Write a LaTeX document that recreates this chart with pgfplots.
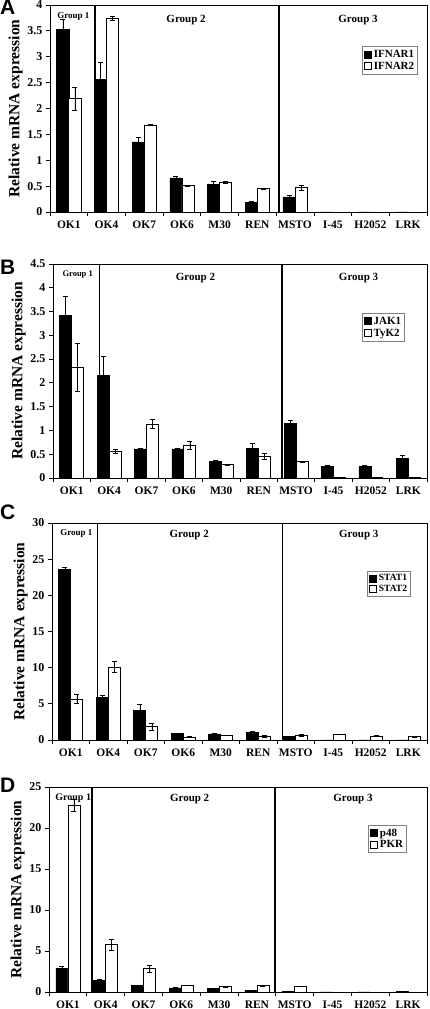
\documentclass[border=0pt]{standalone}
\usepackage{fontspec}
\setmainfont{Liberation Serif}
\newfontfamily\arialfont{Liberation Sans}
\usepackage{pgfplots}
\usepackage{pgfplotstable}
\pgfplotsset{compat=1.18}

\pgfplotstableread{
x y e
0 3.53 0.19
1 2.56 0.34
2 1.355 0.08
3 0.66 0.04
4 0.54 0.06
5 0.19 0.01
6 0.29 0.025
7 0 0
8 0 0
9 0 0
}\Ablack
\pgfplotstableread{
x y e
0 2.19 0.22
1 3.74 0.04
2 1.68 0.01
3 0.51 0.01
4 0.578 0.02
5 0.45 0.005
6 0.47 0.05
7 0 0
8 0 0
9 0 0
}\Awhite
\pgfplotstableread{
x y e
0 3.42 0.41
1 2.16 0.39
2 0.61 0.025
3 0.61 0.01
4 0.357 0.025
5 0.614 0.12
6 1.15 0.06
7 0.236 0.04
8 0.243 0.015
9 0.42 0.05
}\Bblack
\pgfplotstableread{
x y e
0 2.33 0.5
1 0.564 0.035
2 1.136 0.1
3 0.69 0.08
4 0.286 0.01
5 0.457 0.065
6 0.343 0.005
7 0.01 0
8 0.01 0
9 0.02 0
}\Bwhite
\pgfplotstableread{
x y e
0 23.6 0.3
1 5.86 0.35
2 4.14 0.85
3 0.93 0.03
4 0.84 0.09
5 1.07 0.09
6 0.51 0.03
7 0 0
8 0 0
9 0 0
}\Cblack
\pgfplotstableread{
x y e
0 5.67 0.6
1 10.1 0.8
2 1.86 0.45
3 0.42 0.03
4 0.65 0.03
5 0.51 0.12
6 0.70 0.14
7 0.79 0.06
8 0.56 0.03
9 0.47 0.03
}\Cwhite
\pgfplotstableread{
x y e
0 2.85 0.28
1 1.42 0.16
2 0.85 0.03
3 0.49 0.03
4 0.41 0.08
5 0.2 0.05
6 0.06 0
7 0 0
8 0 0
9 0.05 0
}\Dblack
\pgfplotstableread{
x y e
0 22.76 0.7
1 5.77 0.65
2 2.85 0.4
3 0.85 0.03
4 0.65 0.03
5 0.77 0.03
6 0.73 0.03
7 0 0
8 0 0
9 0 0
}\Dwhite

\pgfplotsset{
  panel/.style={
    scale only axis,
    ybar, bar width=0.32,
    xmin=-0.5, xmax=9.5, ymin=0,
    xtick={-0.5,0.5,...,9.5},
    x tick label as interval,
    xticklabels={OK1,OK4,OK7,OK6,M30,REN,MSTO,I-45,H2052,LRK},
    tick pos=left, tick align=outside, major tick length=4pt,
    tick style={black, line width=0.8pt},
    axis line style={line width=0.8pt},
    /pgf/number format/assume math mode=true,
    xticklabel style={font=\bfseries\fontsize{11.5}{12}\selectfont, yshift=-1pt},
    yticklabel style={font=\bfseries\fontsize{12}{12}\selectfont},
    ylabel={Relative mRNA expression},
    ylabel style={font=\bfseries\fontsize{15.5}{16}\selectfont, yshift=-2pt},
    legend cell align=left,
    legend style={draw=gray, line width=0.6pt, fill=white, inner sep=1.5pt,
      row sep=-1pt, font=\bfseries\fontsize{11}{11}\selectfont, anchor=north east},
    legend image code/.code={\draw[#1, line width=0.8pt] (0pt,-3.5pt) rectangle (7pt,3.5pt);},
    clip=false,
  },
  blackbar/.style={fill=black, draw=black, line width=0.6pt, bar shift=-0.16,
    error bars/.cd, y dir=both, y explicit,
    error bar style={black, line width=0.5pt},
    error mark options={rotate=90, mark size=2.5pt, line width=0.5pt}},
  whitebar/.style={fill=white, draw=black, line width=0.8pt, bar shift=0.16,
    error bars/.cd, y dir=both, y explicit,
    error bar style={black, line width=0.5pt},
    error mark options={rotate=90, mark size=2.5pt, line width=0.5pt}},
}

\begin{document}
\begin{tikzpicture}
\path[use as bounding box] (0pt,0pt) rectangle (430pt,1009pt);

% Panel A
\begin{axis}[panel, at={(50pt,797pt)}, anchor=south west, width=377pt, height=207pt,
  ymax=4, ytick={0,0.5,...,4},
  legend style={at={(rel axis cs:0.976,0.80)}}]
\addplot[blackbar] table[x=x,y=y,y error=e]{\Ablack};
\addplot[whitebar] table[x=x,y=y,y error=e]{\Awhite};
\legend{IFNAR1,IFNAR2}
\draw[line width=1.4pt] (axis cs:0.69,0) -- (axis cs:0.69,4);
\draw[line width=1.4pt] (axis cs:5.57,0) -- (axis cs:5.57,4);
\node[anchor=north, font=\bfseries\fontsize{9}{9}\selectfont] at (axis cs:0.12,3.92) {Group 1};
\node[anchor=north, font=\bfseries\fontsize{11}{11}\selectfont] at (axis cs:3.11,3.88) {Group 2};
\node[anchor=north, font=\bfseries\fontsize{11}{11}\selectfont] at (axis cs:7.67,3.88) {Group 3};
\end{axis}
\node[anchor=north west, inner sep=0pt, font=\arialfont\bfseries\fontsize{21}{21}\selectfont] at (0pt,1009pt) {A};

% Panel B
\begin{axis}[panel, at={(53pt,531pt)}, anchor=south west, width=374pt, height=214pt,
  ymax=4.5, ytick={0,0.5,...,4.5},
  legend style={at={(rel axis cs:0.941,0.77)}}]
\addplot[blackbar] table[x=x,y=y,y error=e]{\Bblack};
\addplot[whitebar] table[x=x,y=y,y error=e]{\Bwhite};
\legend{JAK1,TyK2}
\draw[line width=1.4pt] (axis cs:0.75,0) -- (axis cs:0.75,4.5);
\draw[line width=1.4pt] (axis cs:5.62,0) -- (axis cs:5.62,4.5);
\node[anchor=north, font=\bfseries\fontsize{8.5}{9}\selectfont] at (axis cs:0.16,4.43) {Group 1};
\node[anchor=north, font=\bfseries\fontsize{11}{11}\selectfont] at (axis cs:3.31,4.38) {Group 2};
\node[anchor=north, font=\bfseries\fontsize{11}{11}\selectfont] at (axis cs:7.67,4.38) {Group 3};
\end{axis}
\node[anchor=north west, inner sep=0pt, font=\arialfont\bfseries\fontsize{21}{21}\selectfont] at (0pt,749pt) {B};

% Panel C
\begin{axis}[panel, at={(52pt,269pt)}, anchor=south west, width=375pt, height=217pt,
  ymax=30, ytick={0,5,...,30},
  legend style={at={(rel axis cs:0.957,0.78)}, font=\bfseries\fontsize{9.5}{9.5}\selectfont}]
\addplot[blackbar] table[x=x,y=y,y error=e]{\Cblack};
\addplot[whitebar] table[x=x,y=y,y error=e]{\Cwhite};
\legend{STAT1,STAT2}
\draw[line width=1.4pt] (axis cs:0.72,0) -- (axis cs:0.72,30);
\draw[line width=1.4pt] (axis cs:5.65,0) -- (axis cs:5.65,30);
\node[anchor=north, font=\bfseries\fontsize{9}{9}\selectfont] at (axis cs:0.15,29.6) {Group 1};
\node[anchor=north, font=\bfseries\fontsize{11}{11}\selectfont] at (axis cs:3.16,29.5) {Group 2};
\node[anchor=north, font=\bfseries\fontsize{11}{11}\selectfont] at (axis cs:7.68,29.5) {Group 3};
\end{axis}
\node[anchor=north west, inner sep=0pt, font=\arialfont\bfseries\fontsize{21}{21}\selectfont] at (0pt,504pt) {C};

% Panel D
\begin{axis}[panel, at={(49pt,17pt)}, anchor=south west, width=378pt, height=205pt,
  ymax=25, ytick={0,5,...,25},
  legend style={at={(rel axis cs:0.947,0.815)}}]
\addplot[blackbar] table[x=x,y=y,y error=e]{\Dblack};
\addplot[whitebar] table[x=x,y=y,y error=e]{\Dwhite};
\legend{p48,PKR}
\draw[line width=1.4pt] (axis cs:0.64,0) -- (axis cs:0.64,25);
\draw[line width=1.4pt] (axis cs:5.48,0) -- (axis cs:5.48,25);
\node[anchor=north, font=\bfseries\fontsize{10}{10}\selectfont] at (axis cs:0.14,24.6) {Group 1};
\node[anchor=north, font=\bfseries\fontsize{11}{11}\selectfont] at (axis cs:3.22,24.5) {Group 2};
\node[anchor=north, font=\bfseries\fontsize{11}{11}\selectfont] at (axis cs:7.54,24.5) {Group 3};
\end{axis}
\node[anchor=north west, inner sep=0pt, font=\arialfont\bfseries\fontsize{21}{21}\selectfont] at (0pt,231pt) {D};
\end{tikzpicture}
\end{document}
